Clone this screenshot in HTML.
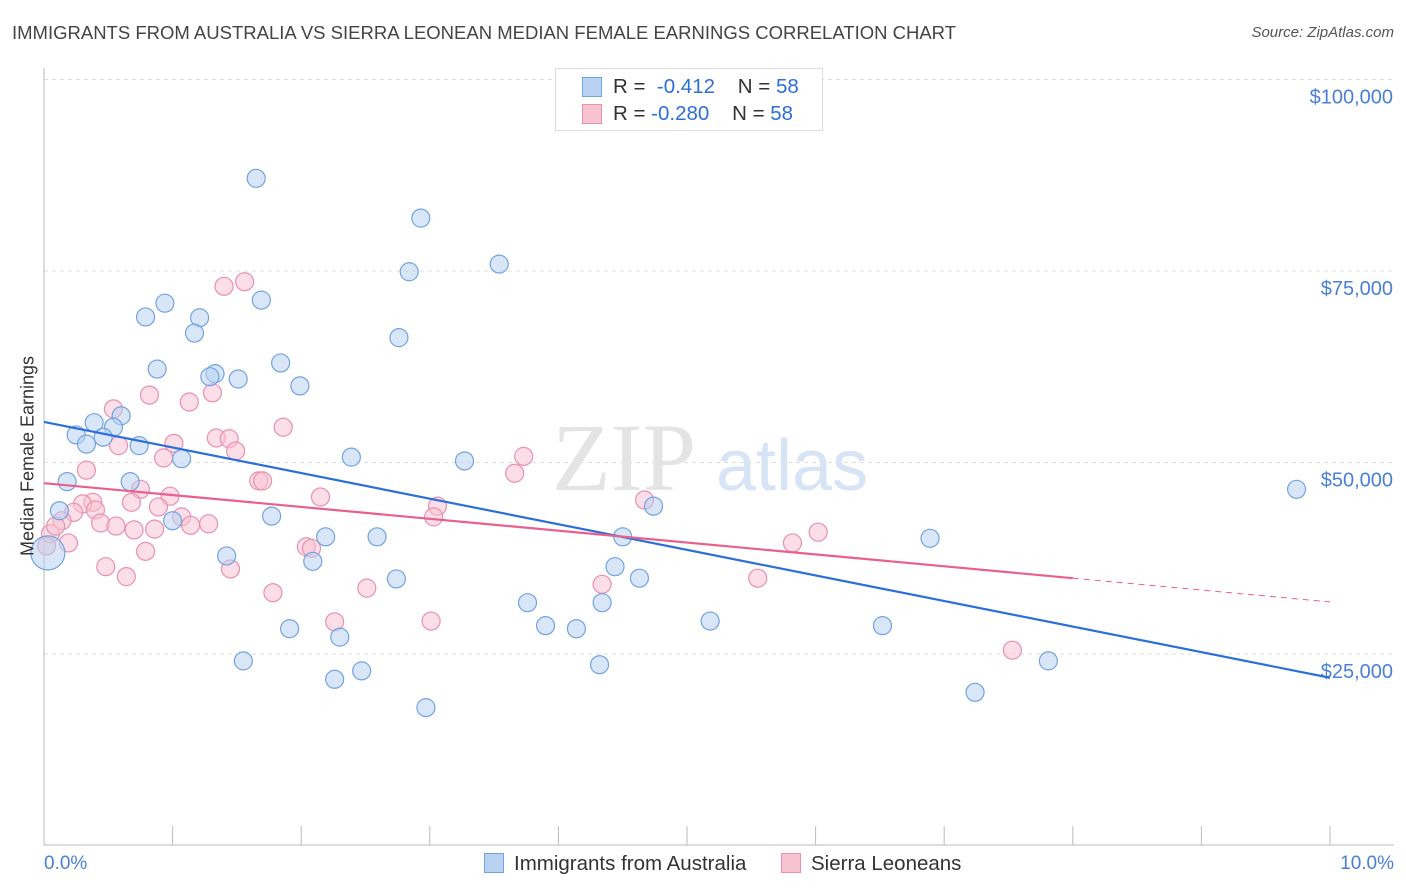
<!DOCTYPE html>
<html><head><meta charset="utf-8"><style>
body{margin:0;background:#fff;font-family:"Liberation Sans",sans-serif;}
#wrap{position:relative;width:1406px;height:892px;overflow:hidden}
.t{position:absolute;white-space:nowrap}
</style></head><body><div id="wrap">
<div class="t" style="left:12px;top:22px;font-size:18.5px;color:#444">IMMIGRANTS FROM AUSTRALIA VS SIERRA LEONEAN MEDIAN FEMALE EARNINGS CORRELATION CHART</div>
<div class="t" style="right:12px;top:24px;font-size:15px;color:#555;font-style:italic">Source: ZipAtlas.com</div>
<svg id="svg" width="1406" height="892" style="position:absolute;left:0;top:0"></svg>
</div>
<script>
const blueX=[1.65,2.93,3.54,2.84,1.69,0.94,0.79,1.21,1.17,2.76,1.84,0.88,1.33,1.29,1.51,1.99,0.60,0.39,0.54,0.25,0.46,0.33,0.74,2.39,1.07,3.27,0.18,0.67,4.74,9.74,0.12,1.77,1.00,2.19,2.59,4.50,6.89,1.42,2.09,4.44,4.63,2.74,3.76,4.34,5.18,3.90,4.14,6.52,1.91,2.30,1.55,4.32,7.81,2.47,2.26,7.24,2.97,0.03];
const blueY=[87.1,81.9,75.9,74.9,71.2,70.8,69.0,68.9,66.9,66.3,63.0,62.2,61.6,61.2,60.9,60.0,56.1,55.2,54.6,53.6,53.3,52.4,52.2,50.7,50.5,50.2,47.5,47.5,44.3,46.5,43.7,43.0,42.4,40.3,40.3,40.3,40.1,37.8,37.1,36.4,34.9,34.8,31.7,31.7,29.3,28.7,28.3,28.7,28.3,27.2,24.1,23.6,24.1,22.8,21.7,20.0,18.0,38.2];
const pinkX=[1.56,1.40,1.13,0.82,1.31,0.54,1.86,0.58,1.01,1.34,1.44,1.49,0.93,3.73,0.33,3.66,1.67,1.70,0.75,2.15,0.98,0.38,0.30,4.67,3.06,0.68,0.89,0.40,0.23,1.07,3.03,0.14,0.44,0.56,0.70,1.28,0.86,1.14,0.05,6.02,0.19,5.82,2.04,2.08,0.02,0.79,0.48,1.45,0.64,5.55,4.34,2.51,1.78,2.26,3.01,7.53,0.09];
const pinkY=[73.6,73.0,57.9,58.8,59.1,57.0,54.6,52.2,52.5,53.2,53.1,51.5,50.6,50.8,49.0,48.6,47.6,47.6,46.5,45.5,45.6,44.8,44.6,45.1,44.3,44.8,44.2,43.8,43.5,42.9,42.9,42.4,42.1,41.7,41.2,42.0,41.3,41.8,40.7,40.9,39.5,39.5,39.0,38.8,39.1,38.4,36.4,36.1,35.1,34.9,34.1,33.6,33.0,29.2,29.3,25.5,41.7];
const blueLine=[55.3,21.9];
const pinkLine=[47.3,31.8];
const pinkSolidEnd=8;
const yTicks=[25,50,75,100];
const yTickLabels=["$25,000","$50,000","$75,000","$100,000"];
const xTicks=[0,1,2,3,4,5,6,7,8,9,10];

const X=v=>44+v*128.6;
const Y=v=>654-(v-25)*7.66;
const svg=document.getElementById('svg');
const NS='http://www.w3.org/2000/svg';
function mk(tag,attrs,parent){const e=document.createElementNS(NS,tag);for(const k in attrs)e.setAttribute(k,attrs[k]);(parent||svg).appendChild(e);return e;}

yTicks.forEach((v,i)=>{
  const g=mk('line',{x1:44,x2:1394,y1:Y(v),y2:Y(v),stroke:'#ddd','stroke-dasharray':'4,4'});
  
  
  const t=mk('text',{x:1393,y:Y(v)+24,'text-anchor':'end','font-size':20,fill:'#4a7fd6','font-family':'Liberation Sans, sans-serif'});
  t.textContent=yTickLabels[i];
  
  
});
mk('line',{x1:44,x2:1394,y1:845,y2:845,stroke:'#bbb'});
mk('line',{x1:44,x2:44,y1:68,y2:845,stroke:'#bbb'});
xTicks.forEach(v=>{
  const l=mk('line',{x1:X(v),x2:X(v),y1:826,y2:845,stroke:'#bbb'});
  
  
});
const wm=mk('text',{x:552,y:490,'font-size':96,fill:'#e4e4e4','font-family':'Liberation Serif, serif'});wm.textContent='ZIP';

const wm2=mk('text',{x:716,y:490,'font-size':72,fill:'#d6e4f5','font-family':'Liberation Sans, sans-serif'});wm2.textContent='atlas';


pinkX.forEach((x,i)=>{
  const c=mk('circle',{cx:X(x),cy:Y(pinkY[i]),r:9,fill:'#f7c3d3','fill-opacity':0.55,stroke:'#e991ad','stroke-width':1.2});
  
  
});
blueX.forEach((x,i)=>{
  const r=i===blueX.length-1?17:9;
  const c=mk('circle',{cx:X(x),cy:Y(blueY[i]),r:r,fill:'#b8d2f2','fill-opacity':0.55,stroke:'#72a3e2','stroke-width':1.2});
  
  
});
const bl=mk('line',{x1:X(0),y1:Y(blueLine[0]),x2:X(10),y2:Y(blueLine[1]),stroke:'#2d6fd8','stroke-width':2.2});

const pe=pinkLine[0]+(pinkLine[1]-pinkLine[0])*pinkSolidEnd/10;
const pl=mk('line',{x1:X(0),y1:Y(pinkLine[0]),x2:X(pinkSolidEnd),y2:Y(pe),stroke:'#e8608c','stroke-width':2.2});

const pd=mk('line',{x1:X(pinkSolidEnd),y1:Y(pe),x2:X(10),y2:Y(pinkLine[1]),stroke:'#e8608c','stroke-width':1,'stroke-dasharray':'6,5'});

</script>
<div class="t" style="left:28px;top:456px;font-size:18px;color:#333;transform:translate(-50%,-50%) rotate(-90deg)">Median Female Earnings</div>
<div class="t" style="left:44px;top:853px;font-size:19px;color:#4a7fd6">0.0%</div>
<div class="t" style="right:12px;top:853px;font-size:19px;color:#4a7fd6">10.0%</div>
<div style="position:absolute;left:555px;top:68px;width:266px;height:61px;border:1px solid #ddd;background:#fff;font-size:20.5px;color:#333">
 <div style="position:absolute;left:26px;top:8px;width:18px;height:18px;background:#b8d2f2;border:1px solid #72a3e2"></div>
 <div class="t" style="left:57px;top:6px">R = <span style="color:#2d6fd8">&nbsp;-0.412</span>&nbsp;&nbsp;&nbsp; N = <span style="color:#2d6fd8">58</span></div>
 <div style="position:absolute;left:26px;top:35px;width:18px;height:18px;background:#f7c3d3;border:1px solid #e991ad"></div>
 <div class="t" style="left:57px;top:33px">R = <span style="color:#2d6fd8">-0.280</span>&nbsp;&nbsp;&nbsp; N = <span style="color:#2d6fd8">58</span></div>
</div>
<div style="position:absolute;left:484px;top:852px;font-size:20.5px;color:#333;white-space:nowrap">
 <span style="display:inline-block;width:18px;height:18px;background:#b8d2f2;border:1px solid #72a3e2;vertical-align:-3px;margin-right:10px"></span>Immigrants from Australia</div>
<div style="position:absolute;left:781px;top:852px;font-size:20.5px;color:#333;white-space:nowrap">
 <span style="display:inline-block;width:18px;height:18px;background:#f7c3d3;border:1px solid #e991ad;vertical-align:-3px;margin-right:10px"></span>Sierra Leoneans</div>
</body></html>
